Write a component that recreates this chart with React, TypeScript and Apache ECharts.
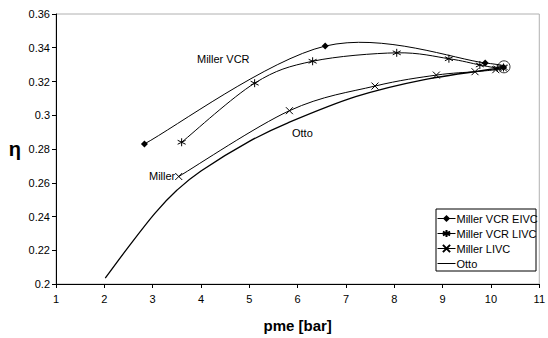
import React, { useEffect, useRef } from "react";
import * as echarts from "echarts";

// Data (pme [bar], efficiency eta)
const millerVcrEivc: [number, number][] = [
  [2.83, 0.283],
  [6.57, 0.341],
  [9.88, 0.331],
  [10.26, 0.3285],
];
const millerVcrLivc: [number, number][] = [
  [3.6, 0.284],
  [5.11, 0.319],
  [6.31, 0.332],
  [8.05, 0.337],
  [9.13, 0.3335],
  [9.77, 0.3298],
  [10.13, 0.328],
  [10.26, 0.3283],
];
const millerLivc: [number, number][] = [
  [3.54, 0.2637],
  [5.83, 0.3027],
  [7.6, 0.3173],
  [8.87, 0.3238],
  [9.67, 0.3258],
  [10.1, 0.327],
  [10.26, 0.328],
];
const otto: [number, number][] = [
  [2.02, 0.2035],
  [2.5, 0.222],
  [3.05, 0.242],
  [3.5, 0.2555],
  [4.0, 0.267],
  [5.0, 0.2845],
  [5.8, 0.2955],
  [7.2, 0.311],
  [8.6, 0.321],
  [10.3, 0.3285],
];
const circleMark: [number, number][] = [[10.27, 0.3287]];

const seriesNames = ["Miller VCR EIVC", "Miller VCR LIVC", "Miller LIVC", "Otto"];
const xTicks = { min: 1, max: 11, interval: 1 };
const yTicks = { min: 0.2, max: 0.36, interval: 0.02 };

const asterisk = "path://M0,-5L0,5M-4.3,-2.5L4.3,2.5M-4.3,2.5L4.3,-2.5";
const cross = "path://M-4,-4L4,4M-4,4L4,-4";

// Excel-like smoothed curve (Catmull-Rom bezier) drawn through the library's coordinate system
function curveSeries(id: string, pts: [number, number][], width: number) {
  return {
    type: "custom",
    name: id,
    data: pts,
    encode: { x: 0, y: 1 },
    silent: true,
    z: 1,
    renderItem: (params: any, api: any) => {
      if (params.dataIndex !== 0) return null;
      const p = pts.map((d) => api.coord(d));
      let d = `M${p[0][0]},${p[0][1]}`;
      for (let i = 0; i < p.length - 1; i++) {
        const p0 = p[i - 1] || p[i];
        const p1 = p[i];
        const p2 = p[i + 1];
        const p3 = p[i + 2] || p[i + 1];
        const c1x = p1[0] + (p2[0] - p0[0]) / 6;
        const c1y = p1[1] + (p2[1] - p0[1]) / 6;
        const c2x = p2[0] - (p3[0] - p1[0]) / 6;
        const c2y = p2[1] - (p3[1] - p1[1]) / 6;
        d += `C${c1x},${c1y},${c2x},${c2y},${p2[0]},${p2[1]}`;
      }
      return {
        type: "path",
        shape: { pathData: d },
        style: { fill: "none", stroke: "#000", lineWidth: width },
      };
    },
  };
}

export default function App() {
  const ref = useRef<HTMLDivElement>(null);
  useEffect(() => {
    if (!ref.current) return;
    const chart = echarts.init(ref.current, undefined, { renderer: "svg" });
    const font = "Liberation Sans, Arial, sans-serif";
    const hiddenLine = { color: "#000", width: 1, opacity: 0 };
    chart.setOption({
      animation: false,
      textStyle: { fontFamily: font },
      grid: { left: 56, top: 14, right: 4, bottom: 54, show: true, borderColor: "#b0b0b0", borderWidth: 1 },
      xAxis: {
        type: "value",
        min: xTicks.min,
        max: xTicks.max,
        interval: xTicks.interval,
        name: "pme [bar]",
        nameLocation: "middle",
        nameGap: 34,
        nameTextStyle: { fontSize: 15, fontWeight: "bold", color: "#000", fontFamily: font },
        axisLine: { lineStyle: { color: "#000", width: 1 } },
        axisTick: { show: true, length: 4, lineStyle: { color: "#000" } },
        axisLabel: { fontSize: 11, color: "#000", margin: 9, fontFamily: font },
        splitLine: { show: false },
      },
      yAxis: {
        type: "value",
        min: yTicks.min,
        max: yTicks.max,
        interval: yTicks.interval,
        name: "η",
        nameLocation: "middle",
        nameRotate: 0,
        nameGap: 35,
        nameTextStyle: { fontSize: 20, fontWeight: "bold", color: "#000", fontFamily: font },
        axisLine: { show: true, lineStyle: { color: "#000", width: 1 } },
        axisTick: { show: true, length: 4, lineStyle: { color: "#000" } },
        axisLabel: {
          fontSize: 11,
          color: "#000",
          margin: 6,
          fontFamily: font,
          formatter: (v: number) => String(+v.toFixed(2)),
        },
        splitLine: { show: false },
      },
      legend: {
        data: seriesNames,
        orient: "vertical",
        left: 437,
        top: 213,
        itemWidth: 18,
        itemHeight: 9,
        itemGap: 4,
        padding: 0,
        lineStyle: { color: "#000", width: 1, opacity: 1 },
        textStyle: { fontSize: 11, color: "#000", fontFamily: font, padding: [0, 0, 0, -4] },
      },
      graphic: [
        { type: "rect", shape: { x: 436, y: 209, width: 100, height: 62 }, style: { fill: "none", stroke: "#000", lineWidth: 1 }, z: 100 },
        { type: "text", left: 197, top: 53, style: { text: "Miller VCR", fontSize: 11, fill: "#000", fontFamily: font } },
        { type: "text", left: 292, top: 127, style: { text: "Otto", fontSize: 11, fill: "#000", fontFamily: font } },
        { type: "text", left: 149, top: 170, style: { text: "Miller", fontSize: 11, fill: "#000", fontFamily: font } },
      ],
      series: [
        curveSeries("curve-eivc", millerVcrEivc, 1),
        curveSeries("curve-vcr-livc", millerVcrLivc, 1),
        curveSeries("curve-livc", millerLivc, 1),
        curveSeries("curve-otto", otto, 1.3),
        {
          name: seriesNames[0],
          type: "line",
          data: millerVcrEivc,
          symbol: "diamond",
          symbolSize: 7,
          itemStyle: { color: "#000" },
          lineStyle: hiddenLine,
        },
        {
          name: seriesNames[1],
          type: "line",
          data: millerVcrLivc,
          symbol: asterisk,
          symbolSize: 8,
          itemStyle: { color: "#000", borderColor: "#000", borderWidth: 1 },
          lineStyle: hiddenLine,
        },
        {
          name: seriesNames[2],
          type: "line",
          data: millerLivc,
          symbol: cross,
          symbolSize: 7,
          itemStyle: { color: "#000", borderColor: "#000", borderWidth: 1 },
          lineStyle: hiddenLine,
        },
        {
          name: seriesNames[3],
          type: "line",
          data: otto,
          showSymbol: false,
          symbol: "circle",
          itemStyle: { color: "transparent", borderColor: "transparent", borderWidth: 0 },
          lineStyle: hiddenLine,
        },
        {
          name: "circle",
          type: "scatter",
          data: circleMark,
          symbol: "circle",
          symbolSize: 12,
          itemStyle: { color: "none", borderColor: "#000", borderWidth: 1 },
          silent: true,
        },
      ],
    });
    return () => chart.dispose();
  }, []);
  return <div ref={ref} style={{ width: 548, height: 338, position: "absolute", left: 0, top: 0 }} />;
}
